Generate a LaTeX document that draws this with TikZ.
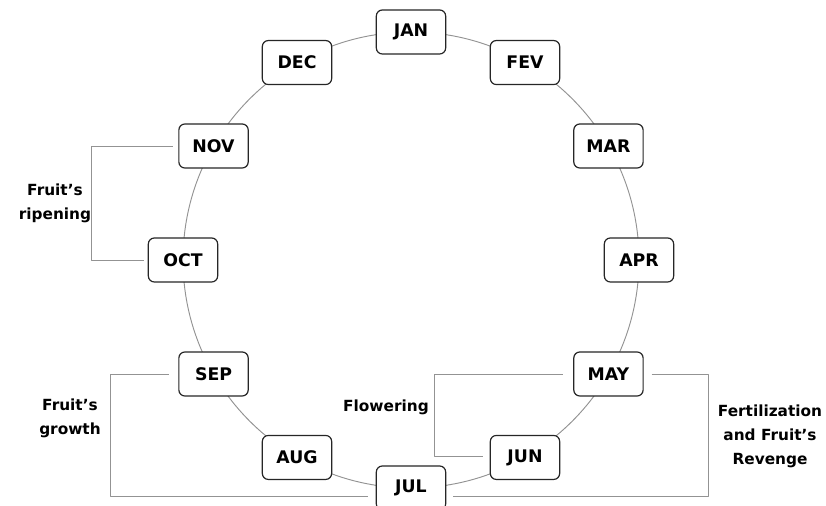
\documentclass[tikz,border=0pt]{standalone}
\usepackage{fontspec}
\setmainfont{DejaVu Sans}
\begin{document}
\begin{tikzpicture}[line cap=round, line join=round, x=0.75pt, y=0.75pt]
	\tikzset{month/.style={draw=black!85, line width=0.9pt, fill=white, rounded corners=4.5pt, minimum width=52pt, minimum height=33pt, font=\fontsize{13}{15}\selectfont\bfseries},
		bracket/.style={draw=gray!85, line width=0.7pt, line cap=butt},
		phase/.style={align=center, font=\fontsize{11.5}{18}\selectfont\bfseries}}
	\useasboundingbox (0,0) rectangle (826,506);
	\begin{scope}[shift={(411,246)}]
		\draw[gray!85, line width=0.7pt] (0,0) circle[radius=171pt];
		\foreach \m/\a in {JAN/90, FEV/60, MAR/30, APR/0, MAY/-30, JUN/-60, JUL/-90, AUG/-120, SEP/-150, OCT/180, NOV/150, DEC/120}
			\node[month] (\m) at (\a:228) {\m};
	\end{scope}
	% phases
	\draw[bracket] ([xshift=-4pt]NOV.west) -- ++(-81,0) |- ([xshift=-3pt]OCT.west);
	\draw[bracket] ([xshift=-7pt]SEP.west) -- ++(-58,0) |- ([xshift=-6pt,yshift=-6pt]JUL.west);
	\draw[bracket] ([xshift=-8pt]MAY.west) -- ++(-128,0) |- ([xshift=-5pt,yshift=1pt]JUN.west);
	\draw[bracket] ([xshift=6pt]MAY.east) -- ++(57,0) |- ([xshift=5pt,yshift=-6pt]JUL.east);
	\node[phase] (ripening) at (55,303) {Fruit's\\ripening};
	\node[phase] (growth) at (70,88) {Fruit's\\growth};
	\node[phase] (flowering) at (386,99) {Flowering};
	\node[phase] (fertilization) at (770,70) {Fertilization\\and Fruit's\\Revenge};
\end{tikzpicture}
\end{document}
